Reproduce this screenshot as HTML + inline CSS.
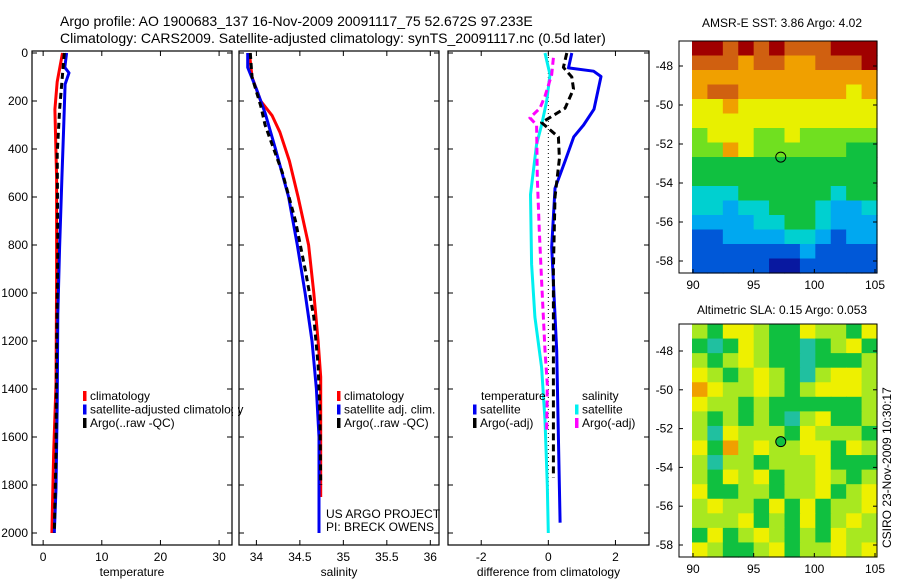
<!DOCTYPE html>
<html><head><meta charset="utf-8"><style>
body{margin:0;background:#fff}
svg{display:block;font-family:"Liberation Sans",sans-serif}
</style></head><body>
<svg id="fig" width="900" height="580" viewBox="0 0 900 580">
<text x="60" y="26" font-size="14">Argo profile: AO 1900683_137 16-Nov-2009 20091117_75 52.672S 97.233E</text>
<text x="60" y="43" font-size="14">Climatology: CARS2009. Satellite-adjusted climatology: synTS_20091117.nc (0.5d later)</text>
<g id="g"></g>
</svg>
<script>
// ---- profile data (depth in m) ----
const tClimDepth=[0,120,235,520,950,1380,1660,1880,2000];
const tClimVal=[3.3,2.4,2.0,2.3,2.3,2.2,1.8,1.6,1.5];
const tSatDepth=[0,60,83,130,307,520,810,1090,1470,1815,2000];
const tSatVal=[4.0,3.7,4.4,3.75,3.5,3.2,2.8,2.5,2.4,2.2,1.9];
const tArgoDepth=[0,120,235,420,810,1240,1670,2000];
const tArgoVal=[3.6,3.2,2.8,2.4,2.5,2.3,2.2,1.9];

const sClimDepth=[0,100,200,260,330,450,600,800,1000,1200,1350,1500,1850];
const sClimVal=[33.92,33.95,34.05,34.18,34.27,34.38,34.48,34.6,34.66,34.71,34.74,34.74,34.74];
const sSatDepth=[0,60,150,250,400,600,800,1000,1200,1400,1600,2000];
const sSatVal=[33.9,33.9,34.0,34.1,34.22,34.37,34.47,34.56,34.64,34.69,34.72,34.72];
const sArgoDepth=[0,100,220,300,350,500,700,900,1100,1300,1500,1800];
const sArgoVal=[33.93,33.95,34.05,34.1,34.15,34.3,34.45,34.56,34.66,34.71,34.73,34.74];

const dTSatDepth=[0,62,76,98,234,300,349,450,564,808,1240,1600,1957];
const dTSatVal=[0.7,0.6,1.35,1.57,1.36,1.05,0.76,0.5,0.2,0.1,0.25,0.3,0.35];
const dTArgoDepth=[0,60,100,150,230,260,290,350,440,600,900,1300,1770];
const dTArgoVal=[0.55,0.45,0.7,0.75,0.5,0.15,-0.2,0.3,0.33,0.2,0.15,0.15,0.15];
const dSSatDepth=[0,90,200,300,380,590,880,1100,1310,1530,1800,2000];
const dSSatVal=[-0.1,0.05,-0.05,-0.2,-0.35,-0.53,-0.5,-0.4,-0.2,-0.1,-0.03,0];
const dSArgoDepth=[20,90,180,230,270,300,520,740,950,1240,1380,1570];
const dSArgoVal=[0.15,0.1,-0.1,-0.25,-0.55,-0.35,-0.33,-0.27,-0.2,-0.1,-0.03,-0.05];

// ---- map data (digit levels, rows north->south) ----
const sstRows=["998989888999","888788778889","777777777777","788777777767","667666666666","666666666666","566655655555","557655555544","444444444444","444444444444","333444444344","332334443223","222233443222","112222332122","111111121111","111110011111"];
const slaRows=["546654465546","434654434564","545654434445","654565435665","765565456665","655454444445","545454356445","536555465554","647565566465","535545556444","546564556545","644554556456","565546464556","555645464565","464565454655","654456455656"];
const sstColors=["#0818a0","#0058d8","#00a8f0","#00d0d0","#10c040","#70e020","#e8f000","#f0a000","#d06010","#a00000"];
const slaColors=["#0058d8","#00a8f0","#20c0c0","#20c0a0","#10c040","#a8e820","#eef000","#f0a000"];
const lonTicks=[90,95,100,105];
const latTicks=[-48,-50,-52,-54,-56,-58];

const NS="http://www.w3.org/2000/svg";
const G=document.getElementById('g');
function el(t,a,p){const e=document.createElementNS(NS,t);for(const k in a)e.setAttribute(k,a[k]);(p||G).appendChild(e);return e;}
const yD=d=>53+d*0.24;
const T=(txt,x,y,anchor,size)=>{const e=el('text',{x:x,y:y,'font-size':size||12,'text-anchor':anchor||'start'});e.textContent=txt;return e;};

function panel(name,x0,x1,xmin,xmax,ticks,labels,xlabel,showY){
  const sx=v=>x0+(v-xmin)/(xmax-xmin)*(x1-x0);
  const b=el('rect',{x:x0,y:51,width:x1-x0,height:494,fill:'none',stroke:'#000','stroke-width':1.2});
  
  
  ticks.forEach((v,i)=>{const x=sx(v);
    el('line',{x1:x,x2:x,y1:545,y2:540,stroke:'#000'});el('line',{x1:x,x2:x,y1:51,y2:56,stroke:'#000'});
    const t=T(labels[i],x,561,'middle');
    
    });
  for(let d=0;d<=2000;d+=200){const y=yD(d);
    el('line',{x1:x0,x2:x0+5,y1:y,y2:y,stroke:'#000'});el('line',{x1:x1,x2:x1-5,y1:y,y2:y,stroke:'#000'});
    if(showY){const t=T(String(d),28,y+4,'end');
      
      }}
  const xl=T(xlabel,(x0+x1)/2,576,'middle');
  
  
  return sx;
}
function line(sx,depths,vals,color,name,dash){
  const p=el('polyline',{points:depths.map((d,i)=>sx(vals[i]).toFixed(1)+','+yD(d).toFixed(1)).join(' '),fill:'none',stroke:color,'stroke-width':3,'stroke-dasharray':dash||'none','stroke-linejoin':'round'});
  
  
}
function legend(x,y,items){items.forEach((it,i)=>{
  const r=el('rect',{x:x,y:y+i*13.5-9,width:3.5,height:10,fill:it[1]});
  
  
  const t=T(it[0],x+7,y+i*13.5);
  
  });}

// Panel 1 temperature
const sx1=panel('temperature',32,232,-1.9,32.2,[0,10,20,30],['0','10','20','30'],'temperature',true);
line(sx1,tClimDepth,tClimVal,'#f00','temp-climatology-line');
line(sx1,tSatDepth,tSatVal,'#0000f0','temp-satellite-line');
line(sx1,tArgoDepth,tArgoVal,'#000','temp-argo-line','6,4');
legend(83,400,[['climatology','#f00'],['satellite-adjusted climatology','#0000f0'],['Argo(..raw -QC)','#000']]);
el('rect',{x:233,y:385,width:5,height:40,fill:'#fff'});

// Panel 2 salinity
const sx2=panel('salinity',239,439,33.8,36.1,[34,34.5,35,35.5,36],['34','34.5','35','35.5','36'],'salinity',false);
line(sx2,sClimDepth,sClimVal,'#f00','sal-climatology-line');
line(sx2,sSatDepth,sSatVal,'#0000f0','sal-satellite-line');
line(sx2,sArgoDepth,sArgoVal,'#000','sal-argo-line','6,4');
legend(337,400,[['climatology','#f00'],['satellite adj. clim.','#0000f0'],['Argo(..raw -QC)','#000']]);
const u1=T('US ARGO PROJECT',326,518);
const u2=T('PI: BRECK OWENS',326,531);

// Panel 3 differences
const sx3=panel('difference',448,649,-2.99,3.0,[-2,0,2],['-2','0','2'],'difference from climatology',false);
el('line',{x1:sx3(0),x2:sx3(0),y1:yD(0),y2:yD(2000),stroke:'#000','stroke-dasharray':'1,3'});
line(sx3,dSSatDepth,dSSatVal,'#00f0f0','diff-sal-satellite-line');
line(sx3,dSArgoDepth,dSArgoVal,'#f0f','diff-sal-argo-line','7,4');
line(sx3,dTSatDepth,dTSatVal,'#0000f0','diff-temp-satellite-line');
line(sx3,dTArgoDepth,dTArgoVal,'#000','diff-temp-argo-line','7,4');
const lt=T('temperature',481,400);
const ls=T('salinity',582,400);
legend(473,413.5,[['satellite','#0000f0'],['Argo(-adj)','#000']]);
legend(575,413.5,[['satellite','#00f0f0'],['Argo(-adj)','#f0f']]);

// Maps
function map(name,rows,colors,top,bot,lat48,lat58,title,titleY,circleFill){
  const x0=692,x1=877,nC=rows[0].length,nR=rows.length,cw=(x1-x0)/nC,ch=(bot-top)/nR;
  rows.forEach((r,i)=>{for(let j=0;j<nC;j++){
    const c=el('rect',{x:(x0+j*cw).toFixed(2),y:(top+i*ch).toFixed(2),width:(cw+0.6).toFixed(2),height:(ch+0.6).toFixed(2),fill:colors[+r[j]]});
    
    }});
  const b=el('rect',{x:679,y:top,width:198,height:bot-top,fill:'none',stroke:'#000'});
  
  
  const lx=v=>693+(v-90)/15*182, ly=v=>lat48+(v+48)/(-10)*(lat58-lat48);
  lonTicks.forEach(v=>{el('line',{x1:lx(v),x2:lx(v),y1:bot,y2:bot-4,stroke:'#000'});
    const t=T(String(v),lx(v),bot+16,'middle');});
  latTicks.forEach(v=>{el('line',{x1:679,x2:683,y1:ly(v),y2:ly(v),stroke:'#000'});el('line',{x1:877,x2:873,y1:ly(v),y2:ly(v),stroke:'#000'});
    const t=T(String(v),673,ly(v)+4,'end');});
  const c=el('circle',{cx:lx(97.233),cy:ly(-52.672),r:5,fill:circleFill,stroke:'#000'});
  
  
  const t=T(title,782,titleY,'middle');
}
map('sst-map',sstRows,sstColors,41,273,66,261,'AMSR-E SST: 3.86 Argo: 4.02',27,'none');
map('sla-map',slaRows,slaColors,324,557,351,545,'Altimetric SLA: 0.15 Argo: 0.053',314,'#10c040');
const cs=T('CSIRO 23-Nov-2009 10:30:17',0,0);
cs.setAttribute('transform','translate(891,548) rotate(-90)');


</script>
</body></html>
